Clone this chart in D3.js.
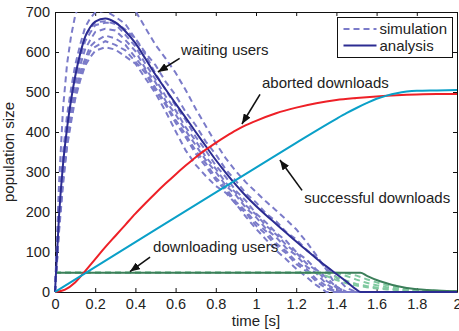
<!DOCTYPE html>
<html>
<head>
<meta charset="utf-8">
<script src="https://cdn.jsdelivr.net/npm/d3@7"></script>
<style>
  body { margin: 0; background: #fff; }
  svg { display: block; font-family: 'Liberation Sans', Arial, sans-serif; }
</style>
</head>
<body>
<svg id="chart" width="459" height="331"></svg>
<script>
// simulation runs, waiting users
const simTime = [0, 0.02, 0.04, 0.06, 0.08, 0.1, 0.125, 0.15, 0.175, 0.2, 0.25, 0.3, 0.35, 0.4, 0.45, 0.5, 0.55, 0.6, 0.65, 0.7,
  0.75, 0.8, 0.85, 0.9, 0.95, 1.0, 1.05, 1.1, 1.15, 1.2, 1.25, 1.3, 1.35, 1.4, 1.45, 1.5, 1.55, 2.0];
const simWaiting = [
  [0, 270, 460, 570, 640, 690, 728, 752, 765, 772, 774, 760, 735, 703, 660, 618, 584, 548, 505, 458, 415, 372, 334, 302, 274, 250, 226, 204, 181, 157, 126, 92, 56, 14, 0, 0, 0, 0],
  [0, 150, 268, 362, 424, 481, 528, 566, 587, 603, 612, 606, 589, 571, 534, 497, 452, 402, 354, 318, 290, 265, 248, 220, 188, 158, 131, 104, 82, 58, 38, 17, 0, 0, 0, 0, 0, 0],
  [0, 212, 348, 442, 508, 566, 618, 662, 684, 699, 703, 688, 670, 633, 594, 546, 506, 466, 430, 388, 354, 316, 287, 253, 228, 196, 174, 148, 128, 100, 82, 56, 36, 12, 0, 0, 0, 0],
  [0, 176, 303, 397, 460, 517, 566, 607, 630, 650, 658, 654, 630, 602, 558, 524, 478, 444, 403, 367, 330, 300, 266, 242, 210, 187, 158, 137, 110, 92, 64, 47, 20, 5, 0, 0, 0, 0],
  [0, 164, 292, 376, 447, 496, 550, 583, 614, 626, 641, 634, 618, 586, 554, 510, 472, 430, 394, 353, 322, 286, 260, 226, 202, 173, 152, 122, 102, 76, 58, 32, 15, 0, 0, 0, 0, 0],
  [0, 196, 328, 422, 488, 547, 598, 640, 658, 674, 677, 670, 643, 614, 570, 532, 490, 454, 412, 378, 338, 308, 273, 248, 216, 194, 166, 144, 118, 98, 72, 54, 28, 11, 0, 0, 0, 0],
  [0, 158, 284, 368, 437, 486, 540, 573, 602, 613, 627, 618, 604, 576, 547, 503, 468, 423, 387, 346, 314, 280, 254, 220, 197, 166, 144, 116, 97, 70, 52, 26, 9, 0, 0, 0, 0, 0],
  [0, 186, 313, 407, 473, 532, 583, 627, 648, 667, 673, 674, 656, 634, 598, 567, 526, 492, 450, 417, 376, 344, 306, 278, 246, 224, 196, 177, 150, 132, 106, 87, 58, 37, 10, 0, 0, 0],
];

// simulation runs, downloading users
const simDownTime = [0, 1.25, 1.3, 1.35, 1.4, 1.45, 1.5, 1.55, 1.6, 1.65, 1.7, 1.75, 1.8, 1.85, 1.9, 1.95, 2.0];
const simDownloading = [
  [48, 48, 48, 48, 37, 28, 20, 15, 11, 8, 6, 4.5, 3, 2, 1.5, 1, 0],
  [48, 48, 48, 48, 47, 40, 31, 23, 17, 12, 9, 6.5, 5, 3.5, 2.5, 2, 1],
  [48, 48, 48, 40, 30, 22, 16, 12, 9, 6.5, 5, 3.5, 2.5, 2, 1, 1, 0],
  [48, 48, 48, 48, 48, 47, 41, 32, 24, 17, 12, 9, 6, 4, 3, 2, 1],
];

// analysis
const waitTime = [0, 0.02, 0.04, 0.06, 0.08, 0.1, 0.125, 0.15, 0.175, 0.2, 0.25, 0.3, 0.35, 0.4, 0.45, 0.5, 0.55, 0.6, 0.65, 0.7,
  0.75, 0.8, 0.85, 0.9, 0.95, 1.0, 1.05, 1.1, 1.15, 1.2, 1.25, 1.3, 1.35, 1.4, 1.45, 1.5, 1.52, 2.0];
const waitingUsers = [0, 190, 320, 410, 480, 538, 595, 638, 662, 676, 684, 674, 652, 622, 583, 543, 507, 471, 436, 400,
  365, 330, 298, 268, 240, 215, 192, 170, 148, 126, 105, 84, 64, 45, 26, 6, 0, 0];

const abortTime = [0, 0.05, 0.1, 0.15, 0.2, 0.25, 0.3, 0.35, 0.4, 0.45, 0.5, 0.55, 0.6, 0.65, 0.7, 0.75, 0.8, 0.85, 0.9, 0.95,
  1.0, 1.1, 1.2, 1.3, 1.4, 1.5, 1.6, 1.7, 1.8, 1.9, 2.0];
const abortedDownloads = [0, 6, 24, 52, 82, 112, 140, 168, 196, 222, 247, 271, 294, 316, 337, 356, 373, 389, 404, 417,
  428, 447, 461, 472, 480, 485, 489, 492, 494, 495, 495];

const successTime = [0, 0.5, 1.0, 1.2, 1.4, 1.45, 1.5, 1.55, 1.6, 1.65, 1.7, 1.75, 1.8, 1.9, 2.0];
const successfulDownloads = [0, 156, 311, 373, 433, 447, 460, 472, 483, 491, 497, 501, 503, 504, 505];

const downTime = [0, 1.52, 1.55, 1.6, 1.65, 1.7, 1.75, 1.8, 1.85, 1.9, 1.95, 2.0];
const downloadingUsers = [48, 48, 41, 30, 22, 15, 10, 7, 5, 3.5, 2.5, 2];

const xTicks = [0, 0.2, 0.4, 0.6, 0.8, 1, 1.2, 1.4, 1.6, 1.8, 2];
const yTicks = [0, 100, 200, 300, 400, 500, 600, 700];

const annotations = [
  { label: 'waiting users', text: [0.627, 592], from: [0.62, 584], to: [0.512, 550] },
  { label: 'aborted downloads', text: [1.03, 510], from: [1.02, 494], to: [0.93, 420] },
  { label: 'successful downloads', text: [1.24, 222], from: [1.229, 254], to: [1.119, 330] },
  { label: 'downloading users', text: [0.488, 100], from: [0.473, 87], to: [0.373, 51] },
];

const colors = {
  sim: '#7b7bc9',
  simGreen: '#80c9a0',
  waiting: '#2c2c92',
  aborted: '#ee2027',
  success: '#0aa0c8',
  downloading: '#3c7f5a',
};

const margin = { top: 12, right: 2, bottom: 39, left: 55 };
const width = 459;
const height = 331;

const x = d3.scaleLinear().domain([0, 2]).range([margin.left, width - margin.right]);
const y = d3.scaleLinear().domain([0, 700]).range([height - margin.bottom, margin.top]);

const svg = d3.select('#chart');

svg.append('defs')
  .call((defs) => {
    defs.append('clipPath')
      .attr('id', 'plot-clip')
      .append('rect')
      .attr('x', margin.left - 2)
      .attr('y', margin.top)
      .attr('width', width - margin.left - margin.right + 4)
      .attr('height', height - margin.top - margin.bottom + 2);
    defs.append('marker')
      .attr('id', 'arrow')
      .attr('markerUnits', 'userSpaceOnUse')
      .attr('viewBox', '0 0 10 8')
      .attr('refX', 10)
      .attr('refY', 4)
      .attr('markerWidth', 10)
      .attr('markerHeight', 8)
      .attr('orient', 'auto')
      .append('path')
      .attr('d', 'M0,0L10,4L0,8Z')
      .attr('fill', '#111');
  });

// axes box with inward ticks
const fontTick = '14.5px';
svg.append('g')
  .attr('transform', `translate(0,${y(0)})`)
  .call(d3.axisBottom(x).tickValues(xTicks).tickFormat((d) => String(d)).tickSize(-4).tickSizeOuter(0).tickPadding(7))
  .call((g) => g.selectAll('text').style('font-size', fontTick).attr('fill', '#222'));
svg.append('g')
  .attr('transform', `translate(${x(0)},0)`)
  .call(d3.axisLeft(y).tickValues(yTicks).tickSize(-4).tickSizeOuter(0).tickPadding(5))
  .call((g) => g.selectAll('text').style('font-size', fontTick).attr('fill', '#222'));
svg.append('g')
  .attr('transform', `translate(0,${y(700)})`)
  .call(d3.axisTop(x).tickValues(xTicks).tickFormat('').tickSize(-4).tickSizeOuter(0));
svg.append('g')
  .attr('transform', `translate(${x(2)},0)`)
  .call(d3.axisRight(y).tickValues(yTicks).tickFormat('').tickSize(-4).tickSizeOuter(0));

svg.selectAll('.domain, .tick line').attr('stroke', '#111');

const plot = svg.append('g').attr('clip-path', 'url(#plot-clip)');

const simLine = (times) => d3.line()
  .x((d, i) => x(times[i]))
  .y((d) => y(d));

const smoothLine = (times) => d3.line()
  .x((d, i) => x(times[i]))
  .y((d) => y(d))
  .curve(d3.curveMonotoneX);

plot.selectAll('.sim-waiting')
  .data(simWaiting)
  .join('path')
  .attr('class', 'sim-waiting')
  .attr('d', simLine(simTime))
  .attr('fill', 'none')
  .attr('stroke', colors.sim)
  .attr('stroke-width', 2)
  .attr('stroke-dasharray', '6,4');

plot.selectAll('.sim-down')
  .data(simDownloading)
  .join('path')
  .attr('class', 'sim-down')
  .attr('d', simLine(simDownTime))
  .attr('fill', 'none')
  .attr('stroke', colors.simGreen)
  .attr('stroke-width', 2)
  .attr('stroke-dasharray', '6,4');

const series = [
  { values: downloadingUsers, times: downTime, color: colors.downloading },
  { values: waitingUsers, times: waitTime, color: colors.waiting },
  { values: abortedDownloads, times: abortTime, color: colors.aborted },
  { values: successfulDownloads, times: successTime, color: colors.success },
];

series.forEach((s) => {
  plot.append('path')
    .attr('d', smoothLine(s.times)(s.values))
    .attr('fill', 'none')
    .attr('stroke', s.color)
    .attr('stroke-width', 2);
});

// annotations
const notes = svg.append('g').style('font-size', '15px').attr('fill', '#222');
annotations.forEach((a) => {
  notes.append('text')
    .attr('x', x(a.text[0]))
    .attr('y', y(a.text[1]))
    .text(a.label);
  notes.append('line')
    .attr('x1', x(a.from[0]))
    .attr('y1', y(a.from[1]))
    .attr('x2', x(a.to[0]))
    .attr('y2', y(a.to[1]))
    .attr('stroke', '#111')
    .attr('stroke-width', 1.6)
    .attr('marker-end', 'url(#arrow)');
});

// legend
const legend = svg.append('g').attr('transform', 'translate(337.5,17.5)');
legend.append('rect')
  .attr('width', 115)
  .attr('height', 40)
  .attr('fill', '#fff')
  .attr('stroke', '#111');
[
  { label: 'simulation', color: colors.sim, dash: '6,4' },
  { label: 'analysis', color: colors.waiting, dash: null },
].forEach((d, i) => {
  legend.append('line')
    .attr('x1', 6)
    .attr('x2', 39)
    .attr('y1', 11.5 + i * 16.5)
    .attr('y2', 11.5 + i * 16.5)
    .attr('stroke', d.color)
    .attr('stroke-width', 2)
    .attr('stroke-dasharray', d.dash);
  legend.append('text')
    .attr('x', 42)
    .attr('y', 16.5 + i * 17)
    .style('font-size', '15px')
    .attr('fill', '#222')
    .text(d.label);
});

// axis labels
svg.append('text')
  .attr('x', x(1))
  .attr('y', 326)
  .attr('text-anchor', 'middle')
  .style('font-size', '15px')
  .attr('fill', '#222')
  .text('time [s]');
svg.append('text')
  .attr('transform', `translate(14,${(y(0) + y(700)) / 2}) rotate(-90)`)
  .attr('text-anchor', 'middle')
  .style('font-size', '15px')
  .attr('fill', '#222')
  .text('population size');
</script>
</body>
</html>
